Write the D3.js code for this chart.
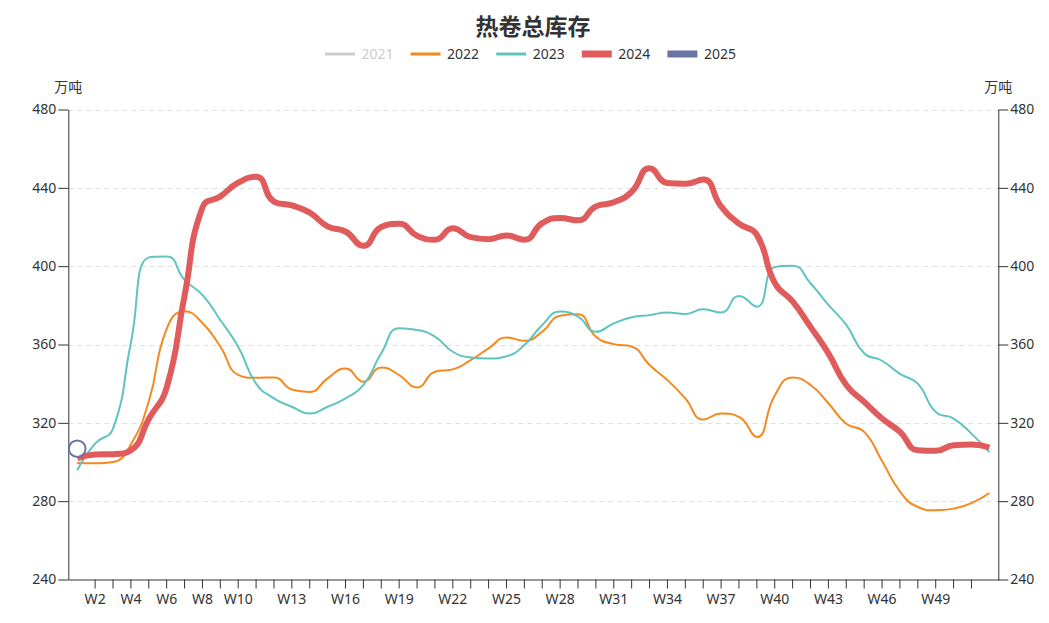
<!DOCTYPE html>
<html>
<head>
<meta charset="utf-8">
<script src="https://cdn.jsdelivr.net/npm/d3@7"></script>
<style>
  body { margin: 0; background: #fff; }
  text { font-family: "Noto Sans", "Noto Sans CJK SC", sans-serif; }
</style>
</head>
<body>
<div id="chart"></div>
<script>
// categories W1..W52
var weeks = d3.range(1, 53).map(function(i) { return "W" + i; });
var xLabels = ["W2", "W4", "W6", "W8", "W10", "W13", "W16", "W19", "W22", "W25",
               "W28", "W31", "W34", "W37", "W40", "W43", "W46", "W49"];
var yTicks = [240, 280, 320, 360, 400, 440, 480];
var seriesNames = ["2021", "2022", "2023", "2024", "2025"];

// values, 万吨
var data2021 = []; // hidden in legend
var data2022 = [299.5, 299.3, 300, 309, 331, 368, 377, 371, 359, 344.5,
                343, 343.2, 337, 335.8, 342.7, 347.8, 341, 348.3, 344.4, 338.1,
                346.1, 347.3, 352, 358, 363.6, 361.9, 366.5, 374.7, 375.4, 364,
                360.2, 359, 349.5, 341.8, 332.5, 321.7, 324.8, 323, 312.8, 334,
                343.2, 339.3, 330, 319.5, 315.4, 300.5, 285, 277, 275.3, 276.2,
                279, 284.2];
var data2023 = [295.8, 309.4, 317, 361, 404.5, 405, 393, 385.3, 372.5, 358.9,
                340, 332.5, 328.2, 324.8, 328.2, 332.5, 339.3, 355.5, 368.3, 367.4,
                364, 356.3, 353.4, 352.9, 354, 359.7, 370, 376.8, 374.2, 366.5,
                370.8, 373.9, 375, 376.4, 375.6, 378, 376.3, 384.8, 379.3, 399.5,
                400.2, 391.3, 380.2, 370, 355.5, 351.7, 345, 340, 325.6, 322.2,
                314.5, 305];
var data2024 = [302, 303.8, 304, 306, 322, 338, 385, 430, 435.6, 442.6,
                445.7, 433, 431, 427.3, 420.3, 417.7, 410.4, 420, 421.7, 415.5,
                413.5, 419.3, 414.8, 413.8, 415.7, 413.5, 422, 424.6, 423.4, 430.5,
                432.6, 438, 450, 442.5, 442.1, 444.2, 430.5, 421.7, 416, 391.5,
                382, 369, 355.5, 339.3, 330.7, 322.2, 315.4, 306, 305.7, 308.6,
                309, 307.4];
var data2025 = [306.8];

var colors = { "2021": "#cccccc", "2022": "#f5891f", "2023": "#5ec4c0", "2024": "#e05b5b", "2025": "#6a73a6" };
var widths = { "2021": 2, "2022": 2, "2023": 2, "2024": 6, "2025": 6 };

var W = 1049, H = 623;
var plotLeft = 68.3, plotRight = 998.3, plotTop = 109.5, plotBottom = 579.5;
var fontColor = "#333";

var svg = d3.select("#chart").append("svg")
  .attr("width", W).attr("height", H);

var x = d3.scaleBand().domain(weeks).range([plotLeft, plotRight]);
var y = d3.scaleLinear().domain([240, 480]).range([plotBottom, plotTop]);
function cx(w) { return x(w) + x.bandwidth() / 2; }

// title
svg.append("text")
  .attr("x", 533).attr("y", 35)
  .attr("text-anchor", "middle")
  .style("font-size", "23px").style("font-weight", "bold")
  .style("fill", fontColor)
  .text("热卷总库存");

// legend
seriesNames.forEach(function(name, i) {
  var lx = 325 + i * 85.6, ly = 54;
  var inactive = name === "2021";
  svg.append("line")
    .attr("x1", lx).attr("x2", lx + 30).attr("y1", ly).attr("y2", ly)
    .style("stroke", colors[name])
    .style("stroke-width", widths[name] > 4 ? 7 : 3);
  svg.append("text")
    .attr("x", lx + 36.5).attr("y", ly).attr("dy", "0.35em")
    .style("font-size", "14px")
    .style("fill", inactive ? "#cccccc" : fontColor)
    .text(name);
});

// grid lines
svg.append("g").selectAll("line")
  .data(yTicks.filter(function(t) { return t > 240; }))
  .enter().append("line")
  .attr("x1", plotLeft).attr("x2", plotRight)
  .attr("y1", function(d) { return Math.round(y(d)) + 0.5; })
  .attr("y2", function(d) { return Math.round(y(d)) + 0.5; })
  .style("stroke", "#e0e0e0").style("stroke-dasharray", "5,4");

// axes
var xAxis = svg.append("g")
  .attr("transform", "translate(0," + plotBottom + ")")
  .call(d3.axisBottom(x)
    .tickValues(weeks.slice(1, 51))
    .tickSize(9).tickSizeOuter(0).tickPadding(6)
    .tickFormat(function(d) { return xLabels.indexOf(d) >= 0 ? d : ""; }));

var yLeft = svg.append("g")
  .attr("transform", "translate(" + plotLeft + ",0)")
  .call(d3.axisLeft(y).tickValues(yTicks).tickSize(10).tickSizeOuter(0).tickPadding(2));

var yRight = svg.append("g")
  .attr("transform", "translate(" + plotRight + ",0)")
  .call(d3.axisRight(y).tickValues(yTicks).tickSize(10).tickSizeOuter(0).tickPadding(2));

[xAxis, yLeft, yRight].forEach(function(g) {
  g.selectAll("path, line").style("stroke", fontColor);
  g.selectAll("text").style("font-size", "14px").style("fill", fontColor)
    .style("font-family", "'Noto Sans', 'Noto Sans CJK SC', sans-serif");
});

// unit names
svg.append("text").attr("x", plotLeft).attr("y", 92).attr("text-anchor", "middle")
  .style("font-size", "14px").style("fill", fontColor).text("万吨");
svg.append("text").attr("x", plotRight).attr("y", 92).attr("text-anchor", "middle")
  .style("font-size", "14px").style("fill", fontColor).text("万吨");

// echarts-like smoothing (smooth = 0.5)
function clamp(v, a, b) { return Math.max(Math.min(a, b), Math.min(Math.max(a, b), v)); }
function smoothPath(pts, s) {
  if (pts.length < 2) return "";
  var d = "M" + pts[0][0] + "," + pts[0][1];
  var prevCp = pts[0];
  for (var i = 1; i < pts.length; i++) {
    var p = pts[i], prev = pts[i - 1], next = pts[i + 1];
    var cpIn = p, cpOut = p;
    if (next) {
      var vx = next[0] - prev[0], vy = next[1] - prev[1];
      var d0 = Math.hypot(p[0] - prev[0], p[1] - prev[1]);
      var d1 = Math.hypot(next[0] - p[0], next[1] - p[1]);
      var r = d1 / (d0 + d1);
      var ox = clamp(p[0] + vx * s * r, p[0], next[0]);
      var oy = clamp(p[1] + vy * s * r, p[1], next[1]);
      var ix = clamp(p[0] - (ox - p[0]) * d0 / d1, prev[0], p[0]);
      var iy = clamp(p[1] - (oy - p[1]) * d0 / d1, prev[1], p[1]);
      ox = p[0] + (p[0] - ix) * d1 / d0;
      oy = p[1] + (p[1] - iy) * d1 / d0;
      cpIn = [ix, iy]; cpOut = [ox, oy];
    }
    d += "C" + prevCp[0] + "," + prevCp[1] + "," + cpIn[0] + "," + cpIn[1] + "," + p[0] + "," + p[1];
    prevCp = cpOut;
  }
  return d;
}

var lines = [["2022", data2022], ["2023", data2023], ["2024", data2024]];
lines.forEach(function(s) {
  var pts = s[1].map(function(v, i) { return [cx(weeks[i]), y(v)]; });
  svg.append("path")
    .attr("d", smoothPath(pts, 0.5))
    .style("fill", "none")
    .style("stroke", colors[s[0]])
    .style("stroke-width", widths[s[0]])
    .style("stroke-linejoin", "round");
});

// 2025: single point
svg.selectAll(".p2025").data(data2025).enter().append("circle")
  .attr("class", "p2025")
  .attr("cx", function(d, i) { return cx(weeks[i]); })
  .attr("cy", function(d) { return y(d); })
  .attr("r", 8.3)
  .style("fill", "#fff")
  .style("stroke", colors["2025"])
  .style("stroke-width", 2);
</script>
</body>
</html>
